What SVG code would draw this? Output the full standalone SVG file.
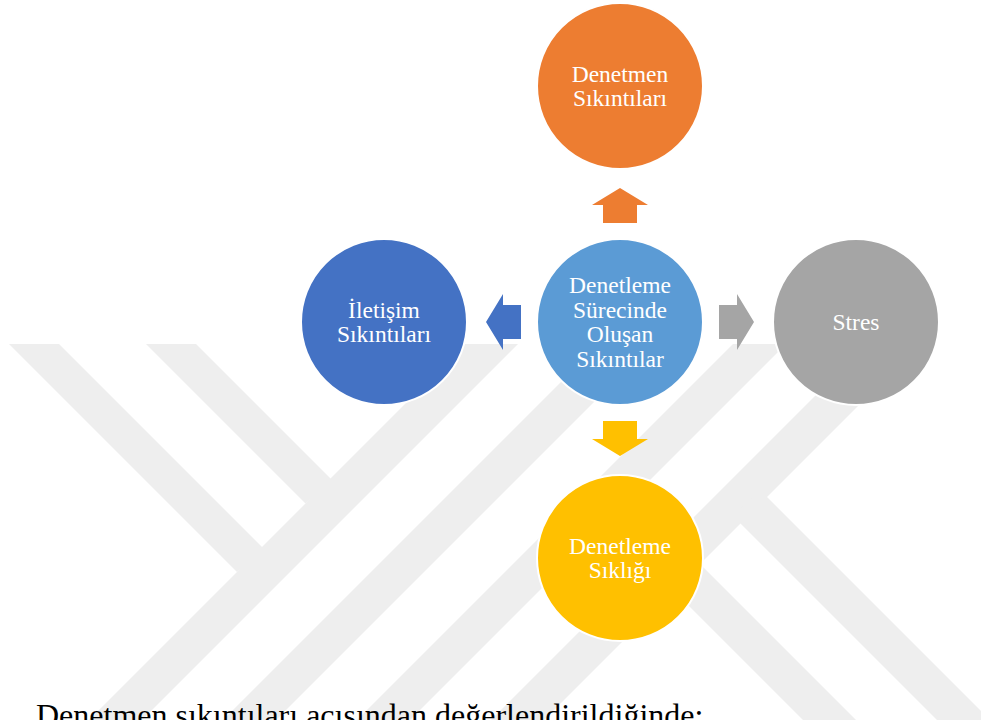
<svg xmlns="http://www.w3.org/2000/svg" width="981" height="720" viewBox="0 0 981 720">
  <style>
    .wm { fill: #EEEEEE; }
    .node circle { stroke: #FFFFFF; stroke-width: 2; }
    .label { font-family: "Liberation Serif", "Times New Roman", serif; font-size: 23.5px; fill: #FFFFFF; text-anchor: middle; }
    .body { font-family: "Liberation Serif", "Times New Roman", serif; font-size: 32px; fill: #000000; }
  </style>
  <defs>
    <clipPath id="page"><rect x="0" y="0" width="981" height="720"/></clipPath>
  </defs>

  <rect x="0" y="0" width="981" height="720" fill="#FFFFFF"/>

  <!-- background emblem: light diagonal bands -->
  <g id="watermark" class="wm" clip-path="url(#page)">
    <!-- "\" bands on the left, ending on the first "/" band -->
    <polygon points="9,344 59,344 264,549 237,572"/>
    <polygon points="146,344 196,344 332,480 305.5,503.5"/>
    <!-- "/" bands crossing the middle -->
    <polygon points="465,344 518,344 102,760 49,760"/>
    <polygon points="599,344 652,344 236,760 183,760"/>
    <polygon points="733,344 786,344 370,760 317,760"/>
    <polygon points="867,344 920,344 504,760 451,760"/>
    <!-- "\" bands on the right, leaving the last "/" band -->
    <polygon points="760,490 1030,760 977,760 733,516"/>
    <polygon points="693,557 896,760 843,760 666,583"/>
  </g>

  <!-- block arrows from the centre node -->
  <g id="connectors">
    <path d="M620,188 L648,205 L637,205 L637,223 L603,223 L603,205 L592,205 Z" fill="#ED7D31"/>
    <path d="M603,421 L637,421 L637,439 L648,439 L620,456 L592,439 L603,439 Z" fill="#FFC000"/>
    <path d="M486,322 L503,294 L503,305 L521,305 L521,339 L503,339 L503,350 Z" fill="#4472C4"/>
    <path d="M754,322 L737,294 L737,305 L719,305 L719,339 L737,339 L737,350 Z" fill="#A5A5A5"/>
  </g>

  <g id="node-center" class="node">
    <circle cx="620" cy="322" r="83" fill="#5B9BD5"/>
    <text class="label" x="620" y="293">Denetleme</text>
    <text class="label" x="620" y="317.5">Sürecinde</text>
    <text class="label" x="620" y="342">Oluşan</text>
    <text class="label" x="620" y="366.5">Sıkıntılar</text>
  </g>

  <g id="node-top" class="node">
    <circle cx="620" cy="86" r="83" fill="#ED7D31"/>
    <text class="label" x="620" y="81.5">Denetmen</text>
    <text class="label" x="620" y="106">Sıkıntıları</text>
  </g>

  <g id="node-left" class="node">
    <circle cx="384" cy="322" r="83" fill="#4472C4"/>
    <text class="label" x="384" y="317.5">İletişim</text>
    <text class="label" x="384" y="342">Sıkıntıları</text>
  </g>

  <g id="node-right" class="node">
    <circle cx="856" cy="322" r="83" fill="#A5A5A5"/>
    <text class="label" x="856" y="330">Stres</text>
  </g>

  <g id="node-bottom" class="node">
    <circle cx="620" cy="558" r="83" fill="#FFC000"/>
    <text class="label" x="620" y="553.5">Denetleme</text>
    <text class="label" x="620" y="578">Sıklığı</text>
  </g>

  <text class="body" x="36" y="726">Denetmen sıkıntıları açısından değerlendirildiğinde:</text>
</svg>
